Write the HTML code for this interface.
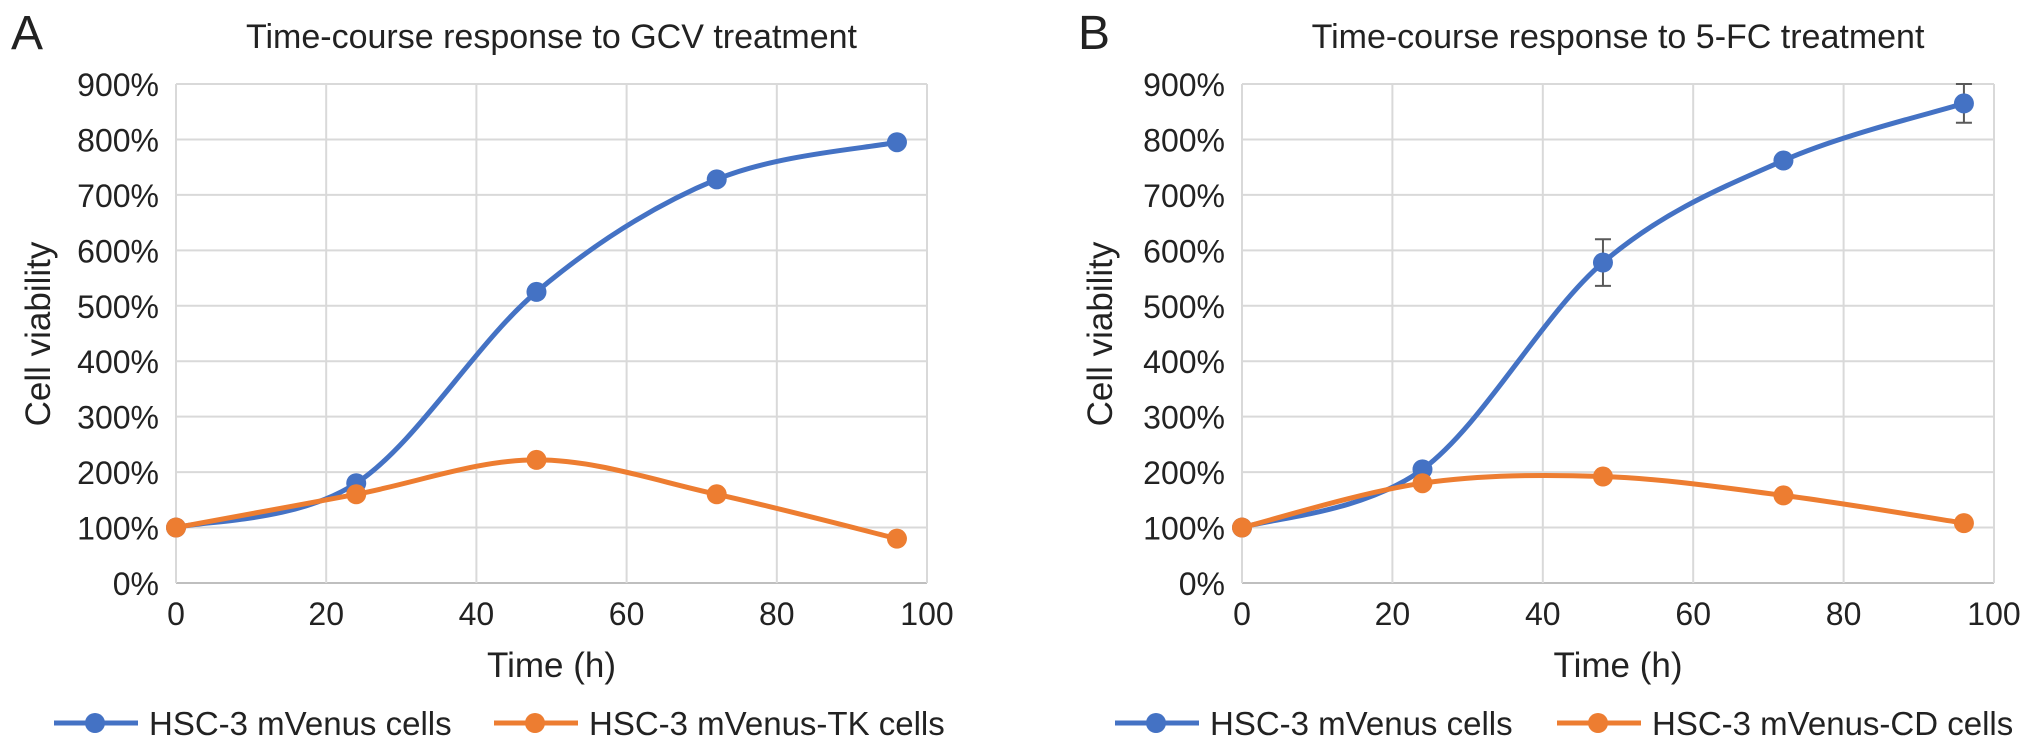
<!DOCTYPE html>
<html><head><meta charset="utf-8"><style>
html,body{margin:0;padding:0;background:#fff;}
svg{display:block;font-family:"Liberation Sans",Arial,sans-serif;}
</style></head><body>
<svg id="chart" width="2032" height="748" viewBox="0 0 2032 748"></svg>
<script>
const times = [0, 24, 48, 72, 96];
const gcvParental = [100, 180, 525, 728, 795];
const gcvTK = [100, 160, 222, 160, 80];
const fcParental = [100, 205, 578, 762, 865];
const fcParentalErr = [0, 0, 42, 0, 35];
const fcCD = [100, 180, 192, 158, 108];
const yTicks = [0, 100, 200, 300, 400, 500, 600, 700, 800, 900];
const xTicks = [0, 20, 40, 60, 80, 100];

const NS = "http://www.w3.org/2000/svg";
const svg = document.getElementById('chart');
function mk(tag, attrs, parent, name) {
  const e = document.createElementNS(NS, tag);
  for (const k in attrs) e.setAttribute(k, attrs[k]);
  
  
  (parent || svg).appendChild(e);
  return e;
}
const BLUE = '#4472C4', ORANGE = '#ED7D31';

function spline(pts) {
  let d = `M${pts[0][0]},${pts[0][1]}`;
  for (let i = 0; i < pts.length - 1; i++) {
    const p0 = pts[i - 1] || pts[i], p1 = pts[i], p2 = pts[i + 1], p3 = pts[i + 2] || p2;
    const c1 = [p1[0] + (p2[0] - p0[0]) / 6, p1[1] + (p2[1] - p0[1]) / 6];
    const c2 = [p2[0] - (p3[0] - p1[0]) / 6, p2[1] - (p3[1] - p1[1]) / 6];
    d += ` C${c1[0]},${c1[1]} ${c2[0]},${c2[1]} ${p2[0]},${p2[1]}`;
  }
  return d;
}

function panel(cfg) {
  const g = mk('g', {}, svg, cfg.id);
  const L = cfg.left, R = cfg.right, T = 84, B = 583;
  const xs = v => L + (v / 100) * (R - L);
  const ys = v => B - (v / 900) * (B - T);
  const letter = mk('text', {x: cfg.letterX, y: 49, 'font-size': 48, fill: '#222'}, g, 'panel-letter');
  letter.textContent = cfg.letter;
  const title = mk('text', {x: (L + R) / 2, y: 48, 'font-size': 34, fill: '#222', 'text-anchor': 'middle'}, g, 'chart-title');
  title.textContent = cfg.title;
  yTicks.forEach(v => {
    mk('line', {x1: L, x2: R, y1: ys(v), y2: ys(v), stroke: v === 0 ? '#bfbfbf' : '#d9d9d9', 'stroke-width': 2}, g, 'y-gridline');
    const t = mk('text', {x: L - 17, y: ys(v) + 12, 'font-size': 32, fill: '#222', 'text-anchor': 'end'}, g, 'y-tick-label');
    t.textContent = v + '%';
  });
  mk('line', {x1: R, x2: R, y1: T, y2: B, stroke: '#d9d9d9', 'stroke-width': 2}, g, 'plot-border');
  xTicks.forEach(v => {
    mk('line', {x1: xs(v), x2: xs(v), y1: T, y2: B, stroke: '#d9d9d9', 'stroke-width': 2}, g, 'x-gridline');
    const t = mk('text', {x: xs(v), y: 625, 'font-size': 32, fill: '#222', 'text-anchor': 'middle'}, g, 'x-tick-label');
    t.textContent = v;
  });
  const xt = mk('text', {x: (L + R) / 2, y: 677, 'font-size': 35, fill: '#222', 'text-anchor': 'middle'}, g, 'x-axis-title');
  xt.textContent = 'Time (h)';
  const yt = mk('text', {x: 0, y: 0, 'font-size': 35, fill: '#222', 'text-anchor': 'middle', transform: `translate(${cfg.yTitleX},334) rotate(-90)`}, g, 'y-axis-title');
  yt.textContent = 'Cell viability';
  cfg.series.forEach(s => {
    const pts = times.map((t, i) => [xs(t), ys(s.values[i])]);
    mk('path', {d: spline(pts), fill: 'none', stroke: s.color, 'stroke-width': 5}, g, s.name + '-line');
    if (s.err) s.err.forEach((e, i) => {
      if (!e) return;
      const x = xs(times[i]), y1 = ys(s.values[i] + e), y2 = ys(s.values[i] - e);
      mk('line', {x1: x, x2: x, y1, y2, stroke: '#595959', 'stroke-width': 2}, g, 'error-bar');
      mk('line', {x1: x - 8, x2: x + 8, y1, y2: y1, stroke: '#595959', 'stroke-width': 2}, g, 'error-cap');
      mk('line', {x1: x - 8, x2: x + 8, y1: y2, y2, stroke: '#595959', 'stroke-width': 2}, g, 'error-cap');
    });
    pts.forEach(p => mk('circle', {cx: p[0], cy: p[1], r: 10, fill: s.color}, g, s.name + '-point'));
  });
  cfg.legend.forEach(l => {
    mk('line', {x1: l.x, x2: l.x + 84, y1: 723, y2: 723, stroke: l.color, 'stroke-width': 5}, g, 'legend-line');
    mk('circle', {cx: l.x + 41, cy: 723, r: 10, fill: l.color}, g, 'legend-marker');
    const t = mk('text', {x: l.x + 95, y: 735, 'font-size': 33, fill: '#222'}, g, 'legend-label');
    t.textContent = l.text;
  });
}

panel({id: 'panel-a', letter: 'A', letterX: 11, left: 176, right: 927, yTitleX: 50,
  title: 'Time-course response to GCV treatment',
  series: [{name: 'mvenus', values: gcvParental, color: BLUE}, {name: 'mvenus-tk', values: gcvTK, color: ORANGE}],
  legend: [{x: 54, color: BLUE, text: 'HSC-3 mVenus cells'}, {x: 494, color: ORANGE, text: 'HSC-3 mVenus-TK cells'}]});
panel({id: 'panel-b', letter: 'B', letterX: 1078, left: 1242, right: 1994, yTitleX: 1112,
  title: 'Time-course response to 5-FC treatment',
  series: [{name: 'mvenus', values: fcParental, color: BLUE, err: fcParentalErr}, {name: 'mvenus-cd', values: fcCD, color: ORANGE}],
  legend: [{x: 1115, color: BLUE, text: 'HSC-3 mVenus cells'}, {x: 1557, color: ORANGE, text: 'HSC-3 mVenus-CD cells'}]});
</script>
</body></html>
